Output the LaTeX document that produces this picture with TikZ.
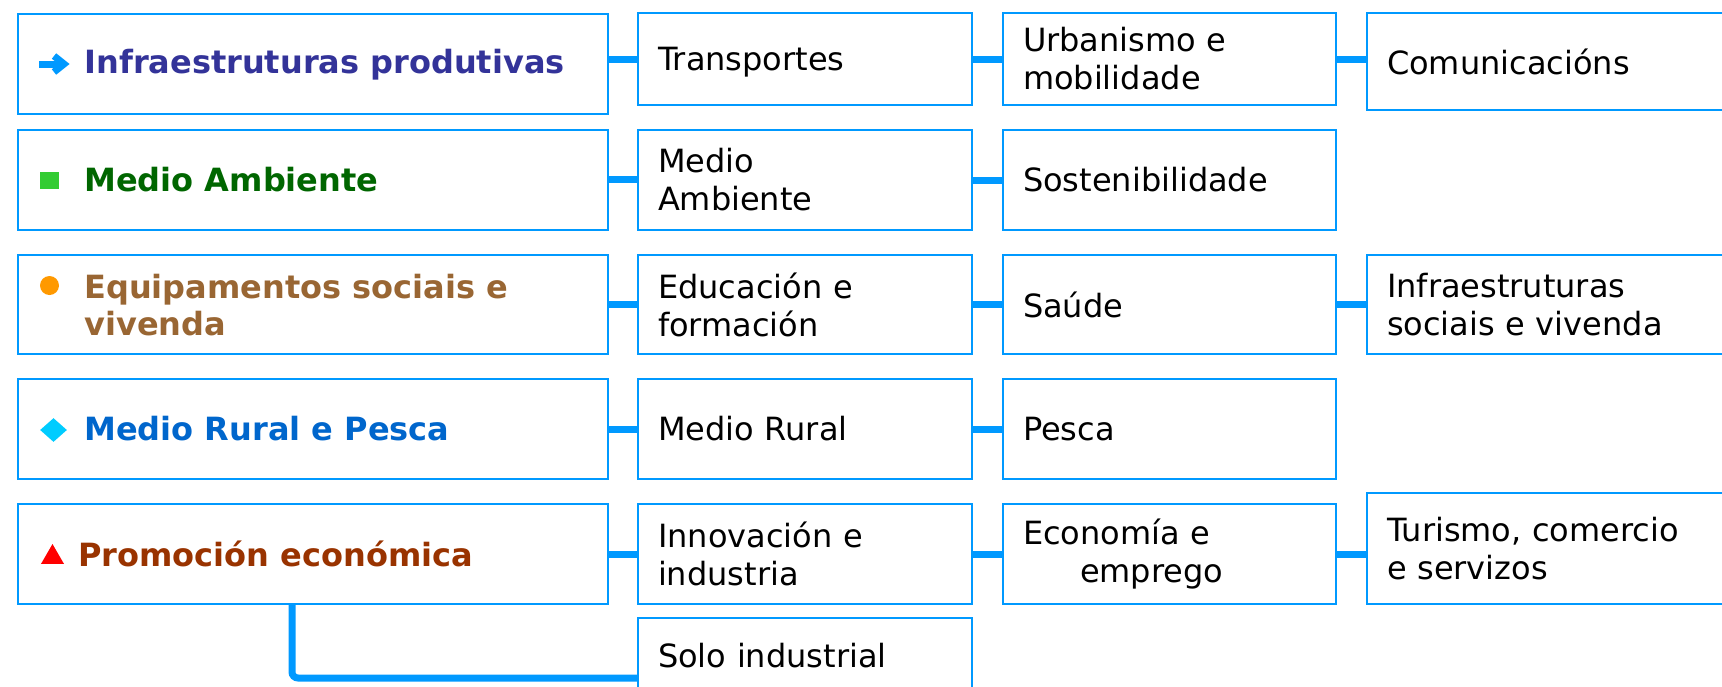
\documentclass[tikz,border=0pt]{standalone}
\usepackage{fontspec}
\setmainfont{DejaVu Sans}
\usetikzlibrary{shapes.geometric}
\definecolor{bblue}{RGB}{0,153,255}
\definecolor{tInf}{RGB}{51,51,153}
\definecolor{tMed}{RGB}{0,102,0}
\definecolor{tEqu}{RGB}{153,102,51}
\definecolor{tRur}{RGB}{0,102,204}
\definecolor{tPro}{RGB}{153,51,0}
\definecolor{bGreen}{RGB}{51,204,51}
\definecolor{bOrange}{RGB}{255,153,0}
\definecolor{bCyan}{RGB}{0,204,255}
\begin{document}
\begin{tikzpicture}[x=0.5pt,y=-0.5pt,
  cbox/.style={draw=bblue, line width=1pt, anchor=north west, inner xsep=10pt, inner ysep=0pt, align=left, font=\fontsize{16}{19}\selectfont},
  colA/.style={cbox, minimum width=295pt, text width=275pt},
  colB/.style={cbox, minimum width=167pt, text width=147pt},
  colC/.style={cbox, minimum width=166.5pt, text width=146.5pt},
  colD/.style={cbox, minimum width=185pt, text width=165pt},
  title/.style={anchor=west, inner sep=0pt, align=left, font=\fontsize{16}{18.5}\selectfont\bfseries},
  link/.style={draw=bblue, line width=3.5pt},
  arrowmark/.style={draw=bblue, line width=3.5pt},
]
\useasboundingbox (0,0) rectangle (1722,686);
\clip (0,0) rectangle (1722,686);

% column 1
\node[colA, minimum height=50pt] (c1r1) at (16.5,12.5) {};
\node[colA, minimum height=50pt] (c1r2) at (16.5,128.5) {};
\node[colA, minimum height=49.5pt] (c1r3) at (16.5,253.5) {};
\node[colA, minimum height=50pt] (c1r4) at (16.5,378) {};
\node[colA, minimum height=50pt] (c1r5) at (16.5,503) {};

% bullets
\draw[arrowmark] (39,64) -- (63,64);
\draw[arrowmark, miter limit=10] (54,56) -- (64,64) -- (54,72);
\node[fill=bGreen, minimum width=9.5pt, minimum height=8.5pt, inner sep=0pt] (b2) at (49.5,180.5) {};
\node[circle, fill=bOrange, minimum size=9.5pt, inner sep=0pt] (b3) at (49.5,285.5) {};
\node[diamond, fill=bCyan, minimum width=13.5pt, minimum height=12pt, inner sep=0pt] (b4) at (53.5,430) {};
\node[regular polygon, regular polygon sides=3, fill=red, minimum size=13.3pt, inner sep=0pt] (b5) at (52.5,557.3) {};

% titles
\node[title, text=tInf] (t1) at (84,64.5) {Infraestruturas produtivas};
\node[title, text=tMed] (t2) at (84,179.5) {Medio Ambiente};
\node[title, text=tEqu] (t3) at (84,305) {Equipamentos sociais e\\vivenda};
\node[title, text=tRur] (t4) at (84,429) {Medio Rural e Pesca};
\node[title, text=tPro] (t5) at (78,554) {Promoción económica};

% column 2
\node[colB, minimum height=46pt, text depth=0pt] (c2r1) at (637,12) {Transportes};
\node[colB, minimum height=50pt] (c2r2) at (637,129) {Medio\\Ambiente};
\node[colB, minimum height=49.5pt] (c2r3) at (637,254) {Educación e\\formación};
\node[colB, minimum height=50pt] (c2r4) at (637,378) {Medio Rural};
\node[colB, minimum height=50pt] (c2r5) at (637,503) {Innovación e\\industria};
\node[colB, minimum height=38pt] (c2r6) at (637,617) {Solo industrial};

% column 3
\node[colC, minimum height=46pt] (c3r1) at (1002,12) {Urbanismo e\\mobilidade};
\node[colC, minimum height=50pt] (c3r2) at (1002,129) {Sostenibilidade};
\node[colC, minimum height=49.5pt] (c3r3) at (1002,254) {Saúde};
\node[colC, minimum height=50pt] (c3r4) at (1002,378) {Pesca};
\node[colC, minimum height=50pt] (c3r5) at (1002,503) {Economía e\\\hspace*{28.5pt}emprego};

% column 4
\node[colD, minimum height=48.5pt] (c4r1) at (1366,12) {Comunicacións};
\node[colD, minimum height=49.5pt] (c4r3) at (1366,254) {Infraestruturas\\sociais e vivenda};
\node[colD, minimum height=55.5pt] (c4r5) at (1366,492) {Turismo, comercio\\e servizos};

% connectors
\draw[link] (c1r1.east |- c2r1.west) -- (c2r1.west);
\draw[link] (c2r1.east) -- (c3r1.west);
\draw[link] (c3r1.east) -- (c3r1.east -| c4r1.west);
\draw[link] (c1r2.east) -- (c1r2.east -| c2r2.west);
\draw[link] (c2r2.east) -- (c3r2.west);
\draw[link] (c1r3.east |- c2r3.west) -- (c2r3.west);
\draw[link] (c2r3.east) -- (c3r3.west);
\draw[link] (c3r3.east) -- (c4r3.west);
\draw[link] (c1r4.east) -- (c2r4.west);
\draw[link] (c2r4.east) -- (c3r4.west);
\draw[link] (c1r5.east) -- (c1r5.east -| c2r5.west);
\draw[link] (c2r5.east) -- (c3r5.west);
\draw[link] (c3r5.east) -- (c3r5.east -| c4r5.west);
\coordinate (sc) at (292,678);
\draw[link, rounded corners=3pt] (c1r5.south -| sc) -- (sc) -- (sc -| c2r6.west);
\end{tikzpicture}
\end{document}
